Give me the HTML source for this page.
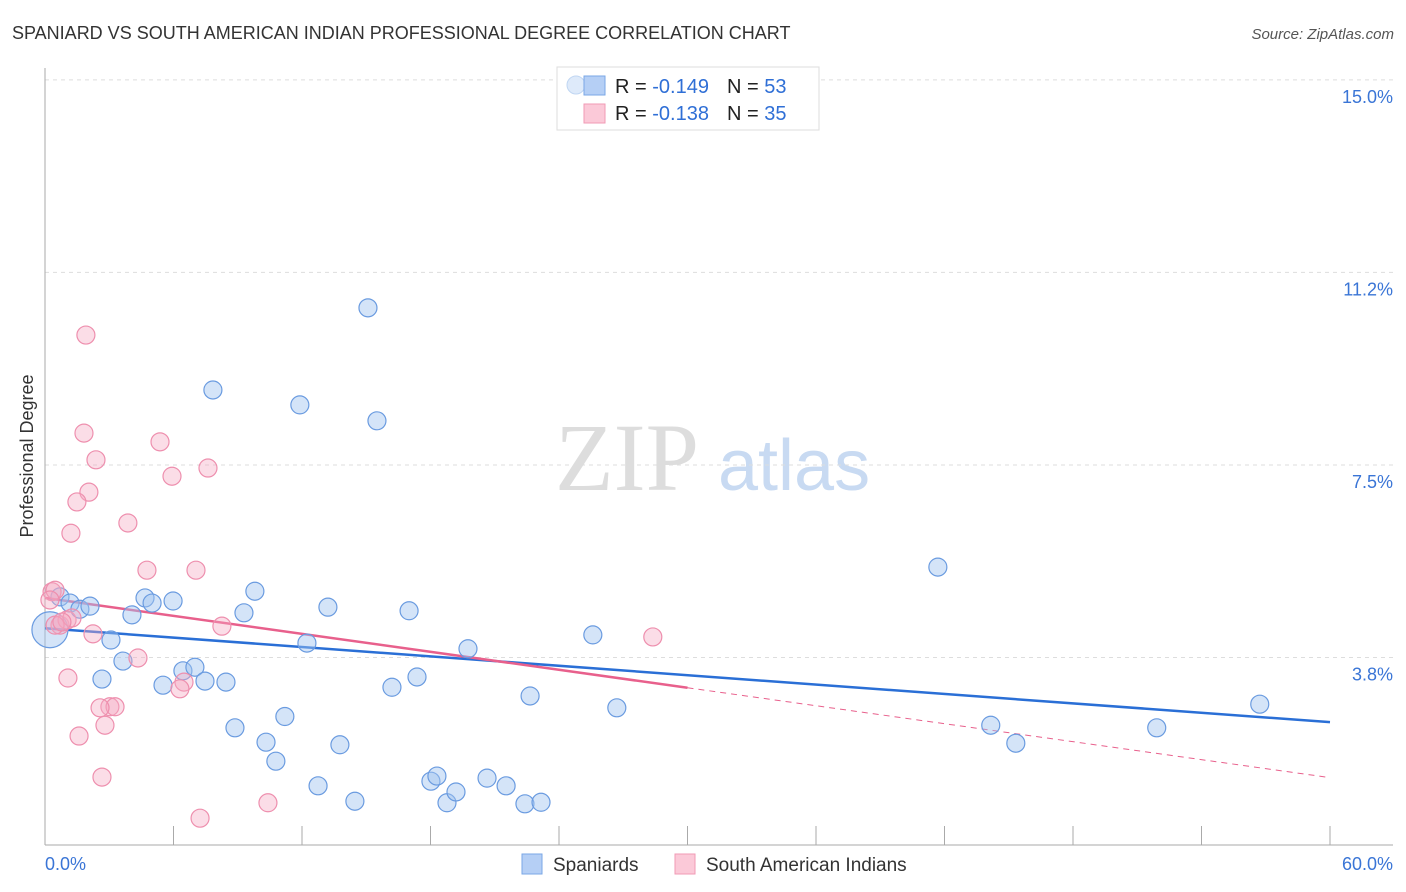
<!DOCTYPE html>
<html><head><meta charset="utf-8"><style>
body{margin:0;background:#fff;font-family:"Liberation Sans",sans-serif;}
svg{display:block}
</style></head><body>
<svg id="chart" width="1406" height="892" xmlns="http://www.w3.org/2000/svg">
<text x="12" y="39" font-size="18" fill="#333">SPANIARD VS SOUTH AMERICAN INDIAN PROFESSIONAL DEGREE CORRELATION CHART</text>
<text x="1394" y="39" font-size="15" fill="#555" font-style="italic" text-anchor="end">Source: ZipAtlas.com</text>
<text transform="translate(33,456) rotate(-90)" font-size="18" fill="#333" text-anchor="middle">Professional Degree</text>
<g>
<text x="555" y="490" font-size="96" font-family="Liberation Serif,serif" fill="#ddd">ZIP</text>
<text x="718" y="490" font-size="72" fill="#c8daf2">atlas</text>
</g>
<g id="grid"></g><g id="axes"></g><g id="lines"></g><g id="pts"></g>
<g>
<rect x="557" y="67" width="262" height="63" fill="#fff" stroke="#ddd"/>
<circle cx="576" cy="85" r="9" fill="rgba(160,196,240,0.35)" stroke="#c0d6f2"/>
<rect x="584" y="76" width="21" height="19" fill="#b5cff5" stroke="#7aa7e6"/>
<rect x="584" y="104" width="21" height="19" fill="#fbc9d8" stroke="#f09ab5"/>
<text x="615" y="93" font-size="20" fill="#222">R = <tspan fill="#2f6fd6">-0.149</tspan><tspan dx="18">N = </tspan><tspan fill="#2f6fd6">53</tspan></text>
<text x="615" y="120" font-size="20" fill="#222">R = <tspan fill="#2f6fd6">-0.138</tspan><tspan dx="18">N = </tspan><tspan fill="#2f6fd6">35</tspan></text>
</g>
<g>
<rect x="522" y="854" width="20" height="20" fill="#b5cff5" stroke="#7aa7e6"/>
<text x="553" y="871" font-size="19" fill="#333">Spaniards</text>
<rect x="675" y="854" width="20" height="20" fill="#fbc9d8" stroke="#f09ab5"/>
<text x="706" y="871" font-size="19" fill="#333">South American Indians</text>
</g>
</svg>
<script>
const yTicks=[3.75,7.5,11.25,15.0];
const yTickLabels=["3.8%","7.5%","11.2%","15.0%"];
const xTickLabels=["0.0%","60.0%"];
const blueX=[0.23,0.70,1.17,1.63,2.10,3.08,2.66,3.64,4.06,4.67,5.0,5.51,5.98,6.44,7.0,7.47,7.84,8.45,8.87,9.29,9.8,10.32,10.78,11.2,11.9,12.23,12.75,13.21,13.77,14.47,15.08,15.5,16.2,17.0,17.37,18.02,18.3,18.77,19.19,19.75,20.64,21.53,22.41,22.65,23.16,25.58,26.7,41.69,44.16,45.33,51.91,56.72];
const blueY=[4.29,4.93,4.81,4.69,4.75,4.09,3.33,3.68,4.58,4.91,4.81,3.21,4.85,3.49,3.56,3.29,8.96,3.27,2.38,4.62,5.04,2.10,1.73,2.60,8.67,4.03,1.25,4.73,2.05,0.95,10.56,8.36,3.17,4.66,3.37,1.34,1.44,0.92,1.13,3.92,1.40,1.25,0.90,3.0,0.93,4.19,2.77,5.51,2.43,2.08,2.38,2.84];
const pinkX=[0.33,0.47,0.23,0.70,1.03,1.26,1.91,1.82,2.38,2.05,1.49,1.21,3.87,5.37,5.93,7.61,4.76,7.05,8.26,2.24,1.07,4.34,6.49,6.30,3.03,3.27,2.80,1.59,2.66,10.41,7.24,28.38,0.47,0.79,2.57];
const pinkY=[5.03,5.06,4.87,4.38,4.48,4.52,10.03,8.12,7.60,6.97,6.78,6.17,6.37,7.95,7.28,7.44,5.45,5.45,4.36,4.21,3.35,3.74,3.27,3.14,2.79,2.79,2.43,2.22,1.42,0.92,0.62,4.15,4.38,4.44,2.77];
const blueTrend=[4.32,2.49];
const pinkTrend=[4.91,1.41];
const pinkSolidEnd=30;
const NS="http://www.w3.org/2000/svg";
const X=v=>45+v*(1285/60), Y=v=>850-v*51.34;
function mk(t,a,p){const e=document.createElementNS(NS,t);for(const k in a)e.setAttribute(k,a[k]);document.getElementById(p).appendChild(e);return e;}
yTicks.forEach((t,i)=>{
 const g=mk('line',{x1:45,x2:1393,y1:Y(t),y2:Y(t),stroke:'#ddd','stroke-dasharray':'4,4'},'grid');
 
 
 const l=mk('text',{x:1393,y:Y(t)+23,'font-size':18,fill:'#3a75d6','text-anchor':'end'},'axes');l.textContent=yTickLabels[i];
 
 
});
mk('line',{x1:45,x2:45,y1:68,y2:845,stroke:'#aaa'},'axes');
mk('line',{x1:45,x2:1393,y1:845,y2:845,stroke:'#aaa'},'axes');
for(let i=1;i<=10;i++){const t=mk('line',{x1:X(i*6),x2:X(i*6),y1:826,y2:845,stroke:'#aaa'},'axes');
 
 }
let a=mk('text',{x:45,y:870,'font-size':18,fill:'#3a75d6'},'axes');a.textContent=xTickLabels[0];


a=mk('text',{x:1393,y:870,'font-size':18,fill:'#3a75d6','text-anchor':'end'},'axes');a.textContent=xTickLabels[1];


blueX.forEach((x,i)=>{const c=mk('circle',{cx:X(x),cy:Y(blueY[i]),r:i==0?18:9,fill:'rgba(160,196,240,0.45)',stroke:'#6a9be0','stroke-width':1.2},'pts');
 
 });
pinkX.forEach((x,i)=>{const c=mk('circle',{cx:X(x),cy:Y(pinkY[i]),r:9,fill:'rgba(245,170,195,0.4)',stroke:'#ee8fae','stroke-width':1.2},'pts');
 
 });
const pAt=v=>pinkTrend[0]+(pinkTrend[1]-pinkTrend[0])*v/60;
let l=mk('line',{x1:X(0),y1:Y(blueTrend[0]),x2:X(60),y2:Y(blueTrend[1]),stroke:'#2a6fd6','stroke-width':2.5},'lines');


l=mk('line',{x1:X(0),y1:Y(pAt(0)),x2:X(pinkSolidEnd),y2:Y(pAt(pinkSolidEnd)),stroke:'#e8608c','stroke-width':2.5},'lines');


l=mk('line',{x1:X(pinkSolidEnd),y1:Y(pAt(pinkSolidEnd)),x2:X(60),y2:Y(pAt(60)),stroke:'#e8608c','stroke-width':1,'stroke-dasharray':'6,5'},'lines');


</script>
</body></html>
